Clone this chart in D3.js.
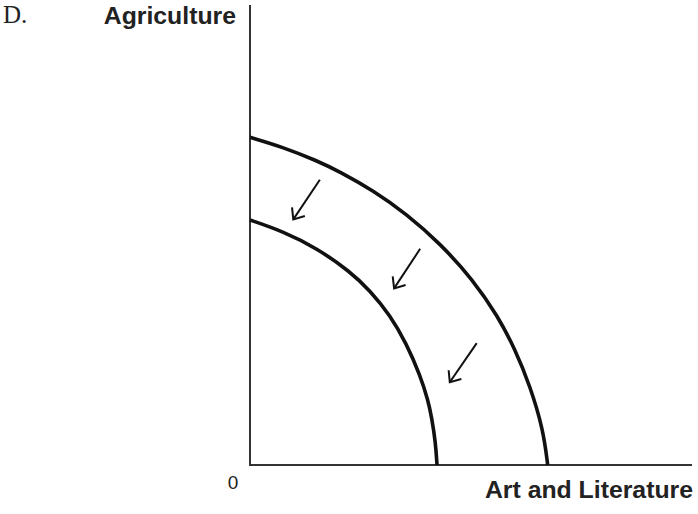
<!DOCTYPE html>
<html>
<head>
<meta charset="utf-8">
<script src="https://cdn.jsdelivr.net/npm/d3@7"></script>
<style>
  html, body { margin: 0; padding: 0; background: #fff; }
  svg { display: block; }
</style>
</head>
<body>
<div id="chart"></div>
<script>
// Set up dimensions
const width = 698,
    height = 514;

// Outer PPF (before)
const outerX = [0, 7.53, 15.09, 20.36, 27.97, 35.45, 42.99, 50.52, 56.09, 59.95, 63.35, 66.36, 67.35];
const outerY = [71.24, 69.07, 66.17, 63.74, 59.61, 54.54, 48.17, 40.20, 32.30, 25.22, 17.22, 7.67, 0];

// Inner PPF (after the shift)
const innerX = [0, 7.53, 15.09, 22.62, 27.15, 31.67, 35.45, 38.46, 40.34, 41.10, 41.97, 42.31];
const innerY = [53.26, 50.76, 47.17, 42.07, 37.93, 32.61, 26.30, 19.57, 13.91, 10.33, 5.00, 0];

// Arrows: tail -> head
const arrowFrom = [[15.8, 62.0], [38.5, 47.0], [51.3, 26.5]];
const arrowTo = [[9.8, 53.4], [32.6, 38.4], [45.2, 18.0]];

const panelLabel = "D.";
const yLabel = "Agriculture";
const xLabel = "Art and Literature";
const originLabel = "0";

// Scales
const x = d3.scaleLinear().domain([0, 100]).range([250, 692]);
const y = d3.scaleLinear().domain([0, 100]).range([465, 5]);

const svg = d3.select("#chart")
    .append("svg")
    .attr("width", width)
    .attr("height", height);

// Axes (plain lines, no ticks)
svg.append("line")
    .attr("x1", x(0)).attr("y1", y(0))
    .attr("x2", x(0)).attr("y2", y(100))
    .attr("stroke", "#333").attr("stroke-width", 2);

svg.append("line")
    .attr("x1", x(0) - 1).attr("y1", y(0))
    .attr("x2", x(100)).attr("y2", y(0))
    .attr("stroke", "#333").attr("stroke-width", 2);

// Curves (basis spline smooths out reading noise)
const line = d3.line()
    .x(d => x(d[0]))
    .y(d => y(d[1]))
    .curve(d3.curveBasis);

[[outerX, outerY], [innerX, innerY]].forEach(([xs, ys]) => {
    svg.append("path")
        .datum(d3.zip(xs, ys))
        .attr("d", line)
        .attr("fill", "none")
        .attr("stroke", "#111")
        .attr("stroke-width", 3.6);
});

// Arrows with open heads
const headLen = 12,
    headAngle = 40 * Math.PI / 180;

arrowFrom.forEach((from, i) => {
    const to = arrowTo[i];
    const x1 = x(from[0]), y1 = y(from[1]);
    const x2 = x(to[0]), y2 = y(to[1]);
    const ang = Math.atan2(y1 - y2, x1 - x2); // direction back toward tail

    svg.append("line")
        .attr("x1", x1).attr("y1", y1)
        .attr("x2", x2).attr("y2", y2)
        .attr("stroke", "#111").attr("stroke-width", 2);

    const p = d3.path();
    p.moveTo(x2 + headLen * Math.cos(ang + headAngle), y2 + headLen * Math.sin(ang + headAngle));
    p.lineTo(x2, y2);
    p.lineTo(x2 + headLen * Math.cos(ang - headAngle), y2 + headLen * Math.sin(ang - headAngle));

    svg.append("path")
        .attr("d", p.toString())
        .attr("fill", "none")
        .attr("stroke", "#111")
        .attr("stroke-width", 2)
        .attr("stroke-linejoin", "miter");
});

// Labels
svg.append("text")
    .attr("x", 3).attr("y", 22.5)
    .style("font-family", "'Liberation Serif', 'Times New Roman', serif")
    .style("font-size", "25px")
    .style("fill", "#222")
    .text(panelLabel);

svg.append("text")
    .attr("x", 236).attr("y", 24)
    .attr("text-anchor", "end")
    .style("font-family", "'Liberation Sans', Arial, sans-serif")
    .style("font-weight", "bold")
    .style("font-size", "24.8px")
    .style("fill", "#222")
    .text(yLabel);

svg.append("text")
    .attr("x", 693).attr("y", 498)
    .attr("text-anchor", "end")
    .style("font-family", "'Liberation Sans', Arial, sans-serif")
    .style("font-weight", "bold")
    .style("font-size", "24.8px")
    .style("fill", "#222")
    .text(xLabel);

svg.append("text")
    .attr("x", 233).attr("y", 489)
    .attr("text-anchor", "middle")
    .style("font-family", "'Liberation Sans', Arial, sans-serif")
    .style("font-size", "19px")
    .style("fill", "#222")
    .text(originLabel);
</script>
</body>
</html>
